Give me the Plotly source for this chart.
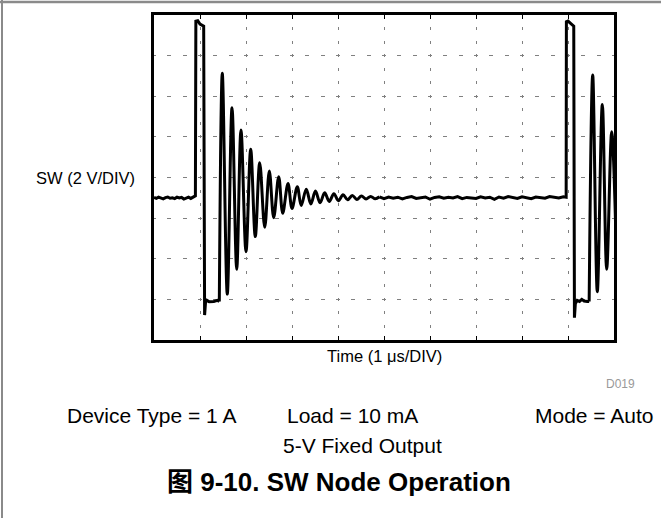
import plotly.graph_objects as go

# ---------------- data ----------------
# time in microseconds (1 us/DIV), SW voltage in volts (2 V/DIV)
base0_t = [0.00, 0.05, 0.10, 0.15, 0.20, 0.25, 0.30, 0.35, 0.40, 0.45,
           0.50, 0.55, 0.60, 0.65, 0.70, 0.75, 0.80, 0.85, 0.90]
base0_v = [5.02, 4.97, 5.03, 4.99, 4.95, 5.01, 5.04, 4.98, 5.00, 4.96,
           5.03, 4.99, 5.02, 4.94, 5.00, 5.03, 4.97, 5.05, 5.10]

pulse1_t = [0.91, 0.95, 1.00, 1.08, 1.10, 1.12, 1.15, 1.20, 1.30, 1.38, 1.42]
pulse1_v = [13.70, 13.72, 13.55, 13.45, -0.77, -0.15, -0.05, -0.12, -0.10, -0.05, -0.10]

ring1_t = [1.485, 1.593, 1.696, 1.798, 1.891, 2.000, 2.102, 2.202, 2.298, 2.407,
           2.507, 2.602, 2.711, 2.798, 2.913, 3.000, 3.115, 3.200, 3.310, 3.410,
           3.510, 3.610, 3.710, 3.810, 3.910, 4.010, 4.110, 4.210, 4.310, 4.410,
           4.510, 4.610, 4.710, 4.810]
ring1_v = [11.13, 0.26, 9.44, 1.48, 8.34, 2.35, 7.39, 3.09, 6.73, 3.55,
           6.32, 4.02, 6.04, 4.24, 5.71, 4.48, 5.55, 4.62, 5.42, 4.70,
           5.33, 4.76, 5.25, 4.82, 5.20, 4.86, 5.15, 4.90, 5.12, 4.92,
           5.09, 4.94, 5.07, 4.95]

base1_t = [4.90, 5.00, 5.10, 5.20, 5.30, 5.40, 5.50, 5.60, 5.70, 5.80,
           5.90, 6.00, 6.10, 6.20, 6.30, 6.40, 6.50, 6.60, 6.70, 6.80,
           6.90, 7.00, 7.10, 7.20, 7.30, 7.40, 7.50, 7.60, 7.70, 7.80,
           7.90, 8.00, 8.10, 8.20, 8.30, 8.40, 8.50, 8.60, 8.70, 8.80, 8.90, 8.96]
base1_v = [5.05, 4.96, 5.04, 4.98, 5.03, 4.95, 5.02, 5.06, 4.97, 5.01,
           5.04, 4.93, 5.02, 5.05, 4.98, 5.03, 4.99, 5.06, 4.96, 5.02,
           5.00, 4.97, 5.05, 4.99, 5.03, 4.92, 5.04, 4.98, 5.06, 5.00,
           4.97, 5.05, 5.01, 4.96, 5.04, 5.02, 4.98, 5.06, 5.03, 4.99, 5.05, 5.03]

pulse2_t = [8.965, 9.00, 9.05, 9.125, 9.14, 9.16, 9.20, 9.25, 9.30, 9.35, 9.42, 9.46]
pulse2_v = [13.67, 13.70, 13.60, 13.45, -0.90, -0.20, -0.05, -0.10, 0.00, -0.08, -0.10, -0.10]

ring2_t = [9.537, 9.637, 9.746, 9.841, 9.950, 10.050]
ring2_v = [11.05, 0.38, 9.60, 1.48, 8.25, 2.35]

y_label = "SW (2 V/DIV)"
x_label = "Time (1 \u03bcs/DIV)"
fig_id = "D019"
cond_left = "Device Type = 1 A"
cond_mid = "Load = 10 mA"
cond_right = "Mode = Auto"
cond_line2 = "5-V Fixed Output"
title_text = "图 9-10. SW Node Operation"

# ---------------- figure ----------------
W, H = 661, 518
L, R, T, B = 154, 614, 15, 340


def xp(px):
    return (px - L) / (R - L)


def yp(py):
    return (B - py) / (B - T)


FONT = "Arial, Liberation Sans, sans-serif"
LINE = dict(color="black", width=3)

fig = go.Figure()
# square switching edges (straight segments)
fig.add_trace(go.Scatter(x=base0_t + pulse1_t, y=base0_v + pulse1_v, mode="lines",
                         line=LINE, hoverinfo="skip", showlegend=False))
# ringing after first pulse (smooth)
fig.add_trace(go.Scatter(x=pulse1_t[-1:] + ring1_t + base1_t[:1],
                         y=pulse1_v[-1:] + ring1_v + base1_v[:1], mode="lines",
                         line=dict(LINE, shape="spline", smoothing=1),
                         hoverinfo="skip", showlegend=False))
# flat part and second pulse
fig.add_trace(go.Scatter(x=base1_t + pulse2_t, y=base1_v + pulse2_v, mode="lines",
                         line=LINE, hoverinfo="skip", showlegend=False))
# ringing after second pulse
fig.add_trace(go.Scatter(x=pulse2_t[-1:] + ring2_t, y=pulse2_v[-1:] + ring2_v, mode="lines",
                         line=dict(LINE, shape="spline", smoothing=1),
                         hoverinfo="skip", showlegend=False))

fig.update_layout(
    width=W, height=H,
    margin=dict(l=L, r=W - R, t=T, b=H - B, pad=0),
    paper_bgcolor="white", plot_bgcolor="white",
    showlegend=False,
    font=dict(family=FONT, color="black"),
)
fig.update_xaxes(range=[0, 10], dtick=1, tick0=0, showticklabels=False,
                 showgrid=True, gridcolor="#808080", gridwidth=1,
                 griddash="1.5px,10.54px,1.5px,0px",
                 zeroline=False, showline=True, linecolor="black", linewidth=3,
                 mirror="ticks", ticks="inside", ticklen=4, tickcolor="black",
                 tickwidth=1)
fig.update_yaxes(range=[-2, 14], dtick=2, tick0=-2, showticklabels=False,
                 showgrid=True, gridcolor="#808080", gridwidth=1,
                 griddash="2px,11.33px,2px,0px",
                 zeroline=False, showline=True, linecolor="black", linewidth=3,
                 mirror=True, ticks="")

ann = []
ann.append(dict(text=y_label, x=xp(137), y=yp(178), xanchor="right", yanchor="middle",
                font=dict(size=16.5, family=FONT)))
ann.append(dict(text=x_label, x=xp(384), y=yp(356), xanchor="center", yanchor="middle",
                font=dict(size=16.5, family=FONT)))
ann.append(dict(text=fig_id, x=xp(604), y=yp(384), xanchor="left", yanchor="middle",
                font=dict(size=12, family=FONT, color="#999999")))
ann.append(dict(text=cond_left, x=xp(65), y=yp(415), xanchor="left", yanchor="middle",
                font=dict(size=21, family=FONT)))
ann.append(dict(text=cond_mid, x=xp(285), y=yp(415), xanchor="left", yanchor="middle",
                font=dict(size=21, family=FONT)))
ann.append(dict(text=cond_right, x=xp(656), y=yp(415), xanchor="right", yanchor="middle",
                font=dict(size=21, family=FONT)))
ann.append(dict(text=cond_line2, x=xp(281), y=yp(445), xanchor="left", yanchor="middle",
                font=dict(size=21, family=FONT)))
ann.append(dict(text="<b>" + title_text + "</b>", x=xp(339), y=yp(482), xanchor="center",
                yanchor="middle",
                font=dict(size=26, family="Arial, Liberation Sans, Noto Sans CJK SC, sans-serif")))
for a in ann:
    a.update(xref="paper", yref="paper", showarrow=False)
fig.update_layout(annotations=ann)

# page frame lines (top and left)
fig.add_shape(type="line", xref="paper", yref="paper",
              x0=xp(-2), x1=xp(W + 2), y0=yp(2), y1=yp(2),
              line=dict(color="#8a8a8a", width=2.5))
fig.add_shape(type="line", xref="paper", yref="paper",
              x0=xp(2), x1=xp(2), y0=yp(0), y1=yp(H + 2),
              line=dict(color="#8a8a8a", width=2))

fig.write_html("out.html", config={"displayModeBar": False},
               post_script="document.body.style.margin='0px';")
